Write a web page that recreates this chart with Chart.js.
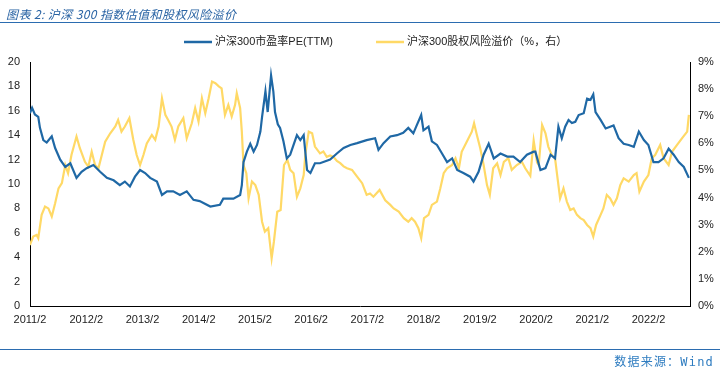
<!DOCTYPE html>
<html>
<head>
<meta charset="utf-8">
<script src="https://cdn.jsdelivr.net/npm/chart.js@4.4.1/dist/chart.umd.min.js"></script>
<style>
  html, body { margin: 0; padding: 0; background: #fff; }
  #wrap { position: relative; width: 720px; height: 369px; overflow: hidden; }
  #title { position: absolute; left: 6px; top: 5px; font-family: "Noto Sans CJK SC", sans-serif; font-style: italic; font-size: 12px; color: #2a64a4; letter-spacing: 0.4px; white-space: nowrap; }
  #topline { position: absolute; left: 0; top: 22px; width: 720px; height: 0; border-top: 1.5px solid #2b6cb0; }
  #botline { position: absolute; left: 0; top: 349px; width: 720px; height: 0; border-top: 1.5px solid #2b6cb0; }
  #source { position: absolute; right: 6px; top: 352px; font-family: "DejaVu Sans Mono", "Noto Sans CJK SC", monospace; font-size: 12px; letter-spacing: 1.2px; color: #2e7cc0; white-space: nowrap; }
  canvas { position: absolute; left: 0; top: 0; }
</style>
</head>
<body>
<div id="wrap">
  <canvas id="c" width="720" height="369"></canvas>
  <div id="title">图表 2: 沪深 300 指数估值和股权风险溢价</div>
  <div id="topline"></div>
  <div id="botline"></div>
  <div id="source">数据来源：Wind</div>
</div>
<script>
// ---- Data (x in decimal years) ----
const seriesNames = ["沪深300市盈率PE(TTM)", "沪深300股权风险溢价（%，右）"];

const peDates = [2011.08,2011.12,2011.17,2011.23,2011.26,2011.32,2011.38,2011.47,2011.53,2011.62,2011.71,2011.80,2011.91,2012.00,2012.09,2012.21,2012.33,2012.45,2012.57,2012.68,2012.77,2012.86,2012.95,2013.04,2013.13,2013.22,2013.34,2013.43,2013.52,2013.63,2013.75,2013.87,2013.99,2014.10,2014.29,2014.46,2014.52,2014.70,2014.82,2014.85,2014.88,2014.94,2015.00,2015.06,2015.12,2015.18,2015.21,2015.27,2015.31,2015.37,2015.41,2015.44,2015.49,2015.53,2015.59,2015.65,2015.71,2015.77,2015.83,2015.89,2015.95,2016.01,2016.07,2016.15,2016.24,2016.42,2016.54,2016.66,2016.78,2016.90,2017.07,2017.22,2017.28,2017.37,2017.49,2017.61,2017.72,2017.81,2017.90,2017.96,2018.04,2018.08,2018.17,2018.23,2018.32,2018.41,2018.50,2018.59,2018.68,2018.79,2018.91,2018.97,2019.06,2019.15,2019.24,2019.33,2019.45,2019.57,2019.68,2019.80,2019.92,2020.04,2020.07,2020.16,2020.25,2020.34,2020.42,2020.48,2020.54,2020.60,2020.66,2020.72,2020.78,2020.84,2020.93,2020.99,2021.05,2021.10,2021.14,2021.23,2021.32,2021.40,2021.46,2021.55,2021.64,2021.73,2021.82,2021.91,2022.00,2022.08,2022.17,2022.26,2022.35,2022.44,2022.53,2022.62,2022.71,2022.80];
const peValues = [15.8,16.25,15.7,15.5,14.6,13.6,13.4,13.9,12.95,12.0,11.4,11.7,10.5,11.0,11.3,11.55,11.0,10.5,10.3,9.9,10.2,9.8,10.6,11.15,10.9,10.5,10.2,9.1,9.4,9.4,9.1,9.4,8.7,8.6,8.15,8.3,8.8,8.8,9.1,9.9,11.8,12.65,13.3,12.65,13.2,14.3,15.5,17.6,15.9,18.9,17.6,15.9,14.9,14.6,13.5,12.1,12.4,13.2,14.0,13.6,14.0,11.15,10.9,11.7,11.7,12.0,12.5,12.95,13.2,13.35,13.6,13.75,12.8,13.35,13.9,14.0,14.2,14.6,14.15,14.8,15.65,14.4,14.7,13.5,13.2,12.5,11.8,12.1,11.15,10.9,10.6,10.2,11.0,12.4,13.3,12.1,12.5,12.25,12.25,11.8,12.4,12.65,12.65,11.15,11.3,12.4,12.1,14.7,13.75,14.7,15.25,15.0,15.1,15.65,15.8,17.0,16.9,17.35,15.9,15.25,14.55,14.7,14.8,13.75,13.3,13.2,13.05,14.3,13.6,13.2,11.8,11.8,12.1,12.9,12.4,11.8,11.4,10.5];

const erpDates = [2011.08,2011.14,2011.20,2011.23,2011.29,2011.35,2011.41,2011.47,2011.53,2011.59,2011.65,2011.71,2011.76,2011.82,2011.91,2011.97,2012.06,2012.12,2012.18,2012.24,2012.30,2012.36,2012.42,2012.51,2012.60,2012.65,2012.71,2012.77,2012.85,2012.92,2012.98,2013.04,2013.10,2013.16,2013.25,2013.31,2013.37,2013.43,2013.49,2013.54,2013.60,2013.66,2013.72,2013.81,2013.87,2013.96,2014.02,2014.08,2014.14,2014.20,2014.26,2014.32,2014.38,2014.44,2014.49,2014.55,2014.61,2014.67,2014.73,2014.76,2014.82,2014.85,2014.88,2014.93,2014.97,2015.03,2015.09,2015.15,2015.21,2015.26,2015.32,2015.38,2015.42,2015.48,2015.54,2015.60,2015.66,2015.71,2015.77,2015.83,2015.89,2015.95,2015.98,2016.04,2016.10,2016.15,2016.24,2016.30,2016.36,2016.42,2016.48,2016.54,2016.60,2016.66,2016.72,2016.81,2016.90,2016.99,2017.07,2017.13,2017.19,2017.30,2017.40,2017.49,2017.55,2017.64,2017.73,2017.81,2017.87,2017.93,2017.99,2018.04,2018.09,2018.17,2018.23,2018.32,2018.38,2018.44,2018.50,2018.59,2018.65,2018.71,2018.76,2018.85,2018.94,2018.98,2019.03,2019.09,2019.15,2019.21,2019.26,2019.32,2019.39,2019.45,2019.51,2019.59,2019.65,2019.74,2019.83,2019.89,2019.98,2020.04,2020.10,2020.13,2020.19,2020.25,2020.30,2020.36,2020.42,2020.48,2020.51,2020.57,2020.63,2020.69,2020.75,2020.81,2020.87,2020.93,2020.99,2021.05,2021.10,2021.15,2021.23,2021.28,2021.34,2021.40,2021.46,2021.52,2021.58,2021.64,2021.73,2021.82,2021.87,2021.92,2022.00,2022.08,2022.14,2022.20,2022.29,2022.35,2022.44,2022.50,2022.59,2022.68,2022.77,2022.80];
const erpValues = [2.25,2.56,2.62,2.5,3.36,3.67,3.6,3.3,3.79,4.34,4.53,5.2,4.9,5.57,6.25,5.82,5.32,5.14,5.69,5.2,5.08,5.57,6.06,6.37,6.62,6.86,6.43,6.62,6.93,6.13,5.57,5.2,5.57,6.0,6.31,6.13,6.62,7.66,7.05,6.86,6.62,6.13,6.62,6.93,6.19,6.74,7.3,6.8,7.66,7.11,7.66,8.28,8.22,8.1,8.03,7.05,7.42,6.99,7.42,7.85,7.3,6.43,5.2,4.9,3.97,4.59,4.46,4.1,3.11,2.74,2.87,1.76,2.37,3.48,3.54,5.2,5.39,5.02,4.9,4.03,4.34,4.83,5.6,6.43,6.37,5.88,5.63,5.7,5.5,5.55,5.5,5.35,5.27,5.15,5.08,5.02,4.77,4.53,4.1,4.15,4.03,4.28,3.9,3.73,3.6,3.48,3.24,3.11,3.24,3.11,2.87,2.5,3.24,3.36,3.73,3.85,4.34,4.9,5.08,5.2,5.45,5.08,5.69,6.06,6.43,6.74,6.31,5.82,5.2,4.46,4.1,5.08,5.26,4.83,5.32,5.45,5.02,5.2,5.32,5.08,4.8,6.1,5.3,5.2,6.68,6.37,5.88,5.57,5.45,4.46,3.97,4.34,3.85,3.54,3.6,3.36,3.24,3.17,2.99,2.87,2.56,2.99,3.36,3.6,4.1,3.97,3.73,3.97,4.46,4.71,4.59,4.83,4.9,4.22,4.59,4.83,5.45,5.57,5.94,5.45,5.2,5.69,5.94,6.19,6.43,7.05];

const xTickValues = [2011.083,2012.083,2013.083,2014.083,2015.083,2016.083,2017.083,2018.083,2019.083,2020.083,2021.083,2022.083];
const xTickLabels = ["2011/2","2012/2","2013/2","2014/2","2015/2","2016/2","2017/2","2018/2","2019/2","2020/2","2021/2","2022/2"];
const leftTicks = [0,2,4,6,8,10,12,14,16,18,20];
const rightTicks = [0,1,2,3,4,5,6,7,8,9];

const peColor = "#1f68a5";
const erpColor = "#ffd966";

const pePoints = peDates.map((d, i) => ({ x: d, y: peValues[i] }));
const erpPoints = erpDates.map((d, i) => ({ x: d, y: erpValues[i] }));

const tickFont = { family: "'Liberation Sans', Arial, sans-serif", size: 11 };

// Legend drawn from the chart's own datasets (labels + colours)
const lineLegend = {
  id: 'lineLegend',
  afterDraw(chart, args, opts) {
    const ctx = chart.ctx;
    ctx.save();
    ctx.font = opts.font;
    ctx.textBaseline = 'middle';
    ctx.textAlign = 'left';
    chart.data.datasets.forEach((ds, i) => {
      const x0 = opts.starts[i];
      ctx.strokeStyle = ds.borderColor;
      ctx.lineWidth = opts.lineWidth;
      ctx.beginPath();
      ctx.moveTo(x0, opts.y);
      ctx.lineTo(x0 + opts.lineLen, opts.y);
      ctx.stroke();
      ctx.fillStyle = opts.color;
      ctx.fillText(ds.label, x0 + opts.lineLen + opts.gap, opts.y);
    });
    ctx.restore();
  }
};

new Chart(document.getElementById('c'), {
  type: 'line',
  data: {
    datasets: [
      { label: seriesNames[0], data: pePoints, yAxisID: 'y', borderColor: peColor, backgroundColor: peColor, borderWidth: 2.2, pointRadius: 0, tension: 0, order: 1 },
      { label: seriesNames[1], data: erpPoints, yAxisID: 'y1', borderColor: erpColor, backgroundColor: erpColor, borderWidth: 2.2, pointRadius: 0, tension: 0, order: 2 }
    ]
  },
  plugins: [lineLegend],
  options: {
    responsive: false,
    animation: false,
    layout: { padding: { top: 62, left: 0, right: 0, bottom: 0 } },
    plugins: {
      legend: { display: false },
      tooltip: { enabled: false },
      lineLegend: {
        starts: [184, 376],
        y: 42,
        lineLen: 28,
        gap: 3,
        lineWidth: 2.5,
        color: '#222',
        font: "11px 'Liberation Sans', 'Noto Sans CJK SC', sans-serif"
      }
    },
    scales: {
      x: {
        type: 'linear',
        min: 2011.083,
        max: 2022.82,
        grid: { display: false, drawTicks: true, tickLength: 4, color: '#000' },
        border: { display: true, color: '#000', width: 1 },
        afterBuildTicks: (s) => { s.ticks = xTickValues.map(v => ({ value: v })); },
        afterFit: (s) => { s.height = 63; },
        ticks: {
          autoSkip: false, maxRotation: 0, color: '#222', font: tickFont, padding: 3,
          callback: (v, i) => xTickLabels[i]
        }
      },
      y: {
        position: 'left',
        min: 0, max: 20,
        grid: { display: false, drawTicks: true, tickLength: 4, color: '#000' },
        border: { display: true, color: '#000', width: 1 },
        afterBuildTicks: (s) => { s.ticks = leftTicks.map(v => ({ value: v })); },
        afterFit: (s) => { s.width = 30; },
        ticks: { color: '#222', font: tickFont, padding: 6 }
      },
      y1: {
        position: 'right',
        min: 0, max: 9,
        grid: { display: false, drawTicks: true, tickLength: 4, color: '#000' },
        border: { display: true, color: '#000', width: 1 },
        afterBuildTicks: (s) => { s.ticks = rightTicks.map(v => ({ value: v })); },
        afterFit: (s) => { s.width = 30; },
        ticks: { color: '#222', font: tickFont, padding: 4, callback: (v) => v + '%' }
      }
    }
  }
});
</script>
</body>
</html>
